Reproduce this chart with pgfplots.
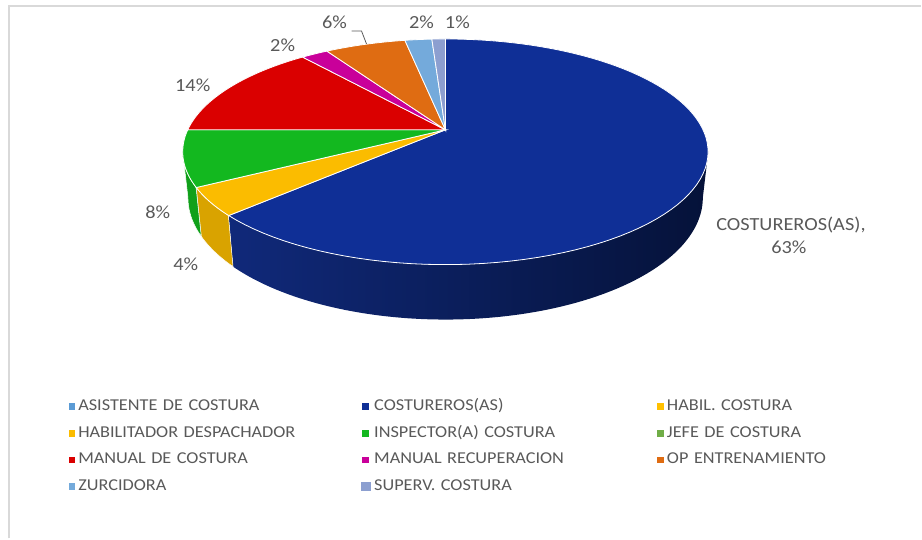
\documentclass[border=0pt]{standalone}
\usepackage{pgfplots}
\pgfplotsset{compat=1.18}
\usepackage{pgfplotstable}
\usepackage{fontspec}
\setmainfont{Carlito}[FakeStretch=1.1]

\definecolor{c0}{HTML}{5B9BD5}
\definecolor{c1}{HTML}{0F2F96}
\definecolor{c2}{HTML}{FFC000}
\definecolor{c3}{HTML}{FBBC00}
\definecolor{c4}{HTML}{13B81F}
\definecolor{c5}{HTML}{70AD47}
\definecolor{c6}{HTML}{DA0000}
\definecolor{c7}{HTML}{C9009A}
\definecolor{c8}{HTML}{DF6C12}
\definecolor{c9}{HTML}{74AADB}
\definecolor{c10}{HTML}{8C9FD0}
\definecolor{bsL}{HTML}{10297A}
\definecolor{bsR}{HTML}{051239}
\definecolor{ysd}{HTML}{D9A300}
\definecolor{gsd}{HTML}{10A01A}
\definecolor{lbl}{HTML}{595959}
\definecolor{frame}{HTML}{D9D9D9}

% share of each job category, percent (legend order)
\pgfplotstableread{
pct
0
63
0
4
8
0
14
2
6
2
1
}\slices

\begin{document}
\begin{tikzpicture}
\begin{axis}[
  width=922pt, height=539pt, scale only axis,
  xmin=0, xmax=922, ymin=0, ymax=539, y dir=reverse,
  hide axis, clip=false,
  declare function={
    px(\t)=446+258*cos(\t)/(1+0.1947*sin(\t));
    py(\t)=130-108.7*sin(\t)/(1+0.1947*sin(\t));
    tt(\s,\a,\b)=\a+(\b-\a)*min(\s,2-\s);
    sx(\s,\a,\b)=446+(1-0.02*(\s>0.9999))*258*cos(tt(\s,\a,\b))/(1+0.1947*sin(tt(\s,\a,\b)));
    sy(\s,\a,\b)=py(tt(\s,\a,\b))+(\s>0.9999)*44.3/(1+0.1947*sin(tt(\s,\a,\b)));
  },
  side1/.style={left color=bsL, right color=bsR, draw=none},
  side3/.style={fill=ysd, draw=white, line width=0.5pt},
  side4/.style={fill=gsd, draw=white, line width=0.5pt},
  superv leg/.style={legend image code/.code={\fill[c10] (0pt,-4.2pt) rectangle (9pt,4.2pt);}},
  legend image code/.code={\fill[#1, draw=none] (0pt,-3.3pt) rectangle (6.7pt,3.3pt);},
  legend columns=3,
  legend cell align=left,
  legend style={at={(axis cs:68.5,399)}, anchor=north west, draw=none, fill=none,
    inner sep=0pt, row sep=10.7pt,
    font=\fontsize{16.6}{20}\selectfont, text=lbl,
    nodes={text width=240pt, align=left, inner xsep=0pt, inner ysep=0pt, text height=12pt, text depth=4pt},
    /tikz/every odd column/.append style={column sep=3pt},
    /tikz/every even column/.append style={column sep=43.5pt}},
  legend entries={ASISTENTE DE COSTURA, COSTUREROS(AS), HABIL. COSTURA,
    HABILITADOR DESPACHADOR, INSPECTOR(A) COSTURA, JEFE DE COSTURA,
    MANUAL DE COSTURA, MANUAL RECUPERACION, OP ENTRENAMIENTO,
    ZURCIDORA, SUPERV. COSTURA},
]
% sides (front part only)
\def\cum{0}
\pgfplotsforeachungrouped \i in {0,...,10}{%
  \pgfplotstablegetelem{\i}{pct}\of\slices
  \let\p=\pgfplotsretval
  \pgfmathsetmacro\ta{90-3.6*\cum}
  \pgfmathsetmacro\cum{\cum+\p}
  \pgfmathsetmacro\tb{90-3.6*\cum}
  \pgfmathsetmacro\sa{max(\tb,-168.8)}
  \pgfmathsetmacro\sb{min(\ta,-11.2)}
  \pgfmathtruncatemacro\vis{(\sb-\sa)>0.01}
  \ifnum\vis=1
    \edef\cmd{\noexpand\addplot[side\i, forget plot, domain=0:2, samples=241] ({sx(x,\sa,\sb)},{sy(x,\sa,\sb)}) -- cycle;}%
    \cmd
  \fi
}
% top faces
\def\cum{0}
\pgfplotsforeachungrouped \i in {0,...,10}{%
  \pgfplotstablegetelem{\i}{pct}\of\slices
  \let\p=\pgfplotsretval
  \pgfmathsetmacro\ta{90-3.6*\cum}
  \pgfmathsetmacro\cum{\cum+\p}
  \pgfmathsetmacro\tb{90-3.6*\cum}
  \ifnum\i=10 \def\ex{superv leg}\else\def\ex{}\fi
  \ifdim\p pt>0pt
    \edef\cmd{\noexpand\addplot[fill=c\i, draw=white, line width=0.8pt, \ex, domain=\tb:\ta, samples=90] ({px(x)},{py(x)}) -- (axis cs:446,130) -- cycle;}%
  \else
    \edef\cmd{\noexpand\addlegendimage{fill=c\i, \ex}}%
  \fi
  \cmd
}
% frame
\draw[frame, line width=2.5pt] (axis cs:9,539) -- (axis cs:9,6) -- (axis cs:922,6);
\path (axis cs:0,0) rectangle (axis cs:922,539);
% data labels
\begin{scope}[every node/.style={text=lbl, font=\fontsize{18.5}{22}\selectfont, inner sep=0pt}]
\node at (axis cs:193,85) {14\%};
\node at (axis cs:283,45) {2\%};
\node at (axis cs:335,22) {6\%};
\node at (axis cs:422,22) {2\%};
\node at (axis cs:458,22) {1\%};
\node at (axis cs:158,213) {8\%};
\node at (axis cs:186,265) {4\%};
\node at (axis cs:792,225) {COSTUREROS(AS),};
\node at (axis cs:790,248) {63\%};
\end{scope}
\draw[lbl, line width=0.8pt] (axis cs:352,31) -- (axis cs:362,31) -- (axis cs:367,44);
\end{axis}
\end{tikzpicture}
\end{document}
